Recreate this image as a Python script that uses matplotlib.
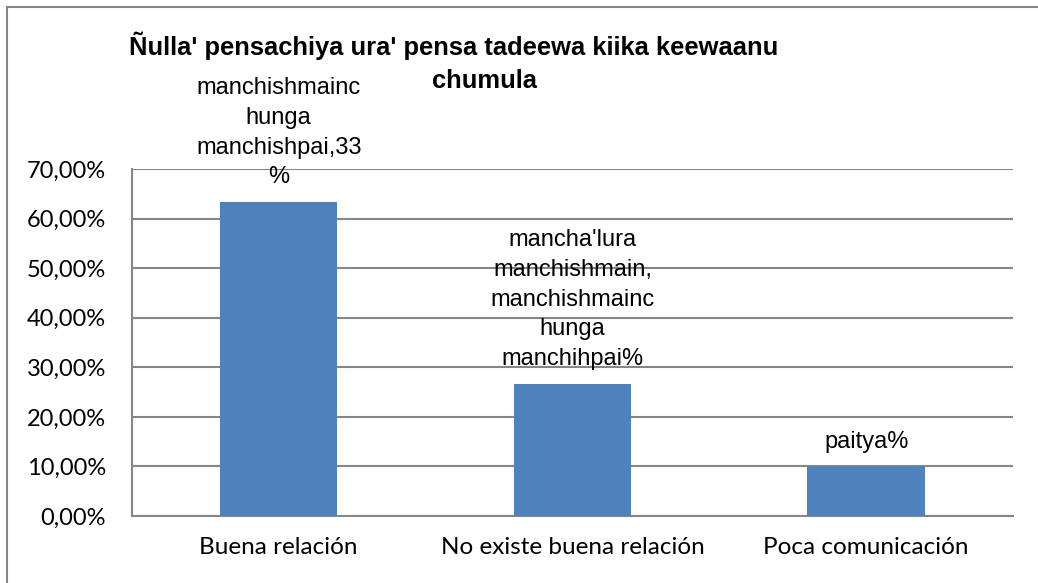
import matplotlib.pyplot as plt
from matplotlib.lines import Line2D
from matplotlib.ticker import FuncFormatter

categories = ["Buena relación", "No existe buena relación", "Poca comunicación"]
values = [0.6333, 0.2667, 0.10]
bar_labels = ["manchishmainc\nhunga\nmanchishpai,33\n%",
              "mancha'lura\nmanchishmain,\nmanchishmainc\nhunga\nmanchihpai%",
              "paitya%"]
yticks = [0, 0.1, 0.2, 0.3, 0.4, 0.5, 0.6, 0.7]
title_line1 = "Ñulla' pensachiya ura' pensa tadeewa kiika keewaanu"
title_line2 = "chumula"

fig = plt.figure(figsize=(10.38, 5.83), dpi=100)
ax = fig.add_axes([0.127, 0.115, 0.849, 0.595])

x = range(len(categories))
ax.bar(x, values, width=0.4, color="#4F81BD", zorder=3)

ax.set_ylim(0, 0.7)
ax.set_xlim(-0.5, 2.5)
ax.set_yticks(yticks)
ax.yaxis.set_major_formatter(FuncFormatter(lambda v, p: f"{v*100:.2f}%".replace(".", ",")))
ax.set_xticks(list(x))
ax.set_xticklabels(categories)
ax.tick_params(axis="both", length=0, colors="black")
ax.tick_params(axis="y", pad=18.5, labelsize=17)
ax.tick_params(axis="x", pad=15, labelsize=17.5)
for lab in ax.get_xticklabels() + ax.get_yticklabels():
    lab.set_fontfamily("Lato")

ax.grid(axis="y", color="#868686", linewidth=1.5, zorder=0)
for s in ["top", "right"]:
    ax.spines[s].set_visible(False)
for s in ["left", "bottom"]:
    ax.spines[s].set_color("#868686")
    ax.spines[s].set_linewidth(1.5)

for i, (v, t) in enumerate(zip(values, bar_labels)):
    ax.annotate(t, (i, v), xytext=(0, 10), textcoords="offset points",
                ha="center", va="bottom", fontsize=17, family="Liberation Sans",
                linespacing=1.45, zorder=4)

fig.text(0.437, 1 - 55 / 583, title_line1, ha="center", va="baseline", fontsize=18.4,
         fontweight="bold", family="Liberation Sans")
fig.text(0.467, 1 - 88 / 583, title_line2, ha="center", va="baseline", fontsize=18.4,
         fontweight="bold", family="Liberation Sans")

# chart area border (left and top only visible)
fig.add_artist(Line2D([0.0068, 0.0068], [0, 0.988], transform=fig.transFigure,
                      color="#868686", linewidth=1.5))
fig.add_artist(Line2D([0.0068, 1.0], [0.988, 0.988], transform=fig.transFigure,
                      color="#868686", linewidth=1.5))

fig.savefig("out.png", dpi=100)
